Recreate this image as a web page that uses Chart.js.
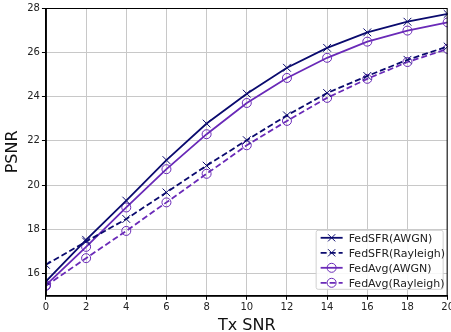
<!DOCTYPE html>
<html>
<head>
<meta charset="utf-8">
<script src="https://cdn.jsdelivr.net/npm/chart.js@4"></script>
<style>
  html, body { margin:0; padding:0; background:#fff; overflow:hidden; }
  #wrap { width:456px; height:332px; }
</style>
</head>
<body>
<div id="wrap"><canvas id="c" width="456" height="332"></canvas></div>
<script>
// Tx SNR values and PSNR curves
const snr = [0, 2, 4, 6, 8, 10, 12, 14, 16, 18, 20];
const fedSfrAwgn     = [15.65, 17.53, 19.30, 21.13, 22.78, 24.13, 25.30, 26.20, 26.90, 27.38, 27.73];
const fedSfrRayleigh = [16.40, 17.45, 18.47, 19.67, 20.88, 22.03, 23.15, 24.16, 24.93, 25.66, 26.26];
const fedAvgAwgn     = [15.48, 17.21, 18.99, 20.72, 22.30, 23.71, 24.84, 25.75, 26.48, 26.98, 27.35];
const fedAvgRayleigh = [15.45, 16.70, 17.93, 19.22, 20.51, 21.80, 22.90, 23.94, 24.80, 25.56, 26.15];
const yTicks = [16, 18, 20, 22, 24, 26, 28];

const NAVY = '#0a0a6e';
const PURPLE = '#6a2ab8';
const FONT = "'DejaVu Sans', sans-serif";

const pts = arr => arr.map((v, i) => ({x: snr[i], y: v}));

function series(label, data, color, dashed, marker){
  return {
    label,
    data: pts(data),
    borderColor: color,
    backgroundColor: 'rgba(0,0,0,0)',
    borderWidth: 1.8,
    borderDash: dashed ? [6, 3] : [],
    pointStyle: marker,
    pointRadius: marker === 'circle' ? 4.5 : 5.5,
    pointBorderWidth: 1,
    pointBorderColor: color,
    pointBackgroundColor: 'rgba(0,0,0,0)',
    tension: 0
  };
}

const datasets = [
  series('FedSFR(AWGN)', fedSfrAwgn, NAVY, false, 'crossRot'),
  series('FedSFR(Rayleigh)', fedSfrRayleigh, NAVY, true, 'crossRot'),
  series('FedAvg(AWGN)', fedAvgAwgn, PURPLE, false, 'circle'),
  series('FedAvg(Rayleigh)', fedAvgRayleigh, PURPLE, true, 'circle')
];

// box frame round the plot and a matplotlib-like legend
const frameAndLegend = {
  id: 'frameAndLegend',
  afterDatasetsDraw(chart){
    const {ctx, chartArea: a} = chart;
    ctx.save();
    ctx.strokeStyle = '#000';
    ctx.lineWidth = 1;
    ctx.strokeRect(a.left + 0.5, a.top + 0.5, a.right - a.left - 1, a.bottom - a.top);

    const w = 127, rowH = 15, h = 59;
    const x0 = a.right - w - 5, y0 = a.bottom - h - 7;
    ctx.fillStyle = 'rgba(255,255,255,0.85)';
    ctx.strokeStyle = '#d0d0d0';
    ctx.lineWidth = 1;
    ctx.beginPath();
    ctx.roundRect(x0 + 0.5, y0 + 0.5, w, h, 2);
    ctx.fill();
    ctx.stroke();

    ctx.font = '11px ' + FONT;
    ctx.textBaseline = 'middle';
    datasets.forEach((d, i) => {
      const cy = y0 + 8 + i * rowH;
      const lx = x0 + 5;
      ctx.strokeStyle = d.borderColor;
      ctx.lineWidth = d.borderWidth;
      ctx.setLineDash(d.borderDash);
      ctx.beginPath();
      ctx.moveTo(lx, cy);
      ctx.lineTo(lx + 22, cy);
      ctx.stroke();
      ctx.setLineDash([]);
      ctx.lineWidth = 1;
      const mx = lx + 11, r = 4.5;
      ctx.beginPath();
      if (d.pointStyle === 'circle') {
        ctx.arc(mx, cy, r, 0, Math.PI * 2);
      } else {
        const k = r * 0.8;
        ctx.moveTo(mx - k, cy - k); ctx.lineTo(mx + k, cy + k);
        ctx.moveTo(mx - k, cy + k); ctx.lineTo(mx + k, cy - k);
      }
      ctx.stroke();
      ctx.fillStyle = '#222';
      ctx.fillText(d.label, lx + 28, cy + 1);
    });
    ctx.restore();
  }
};

new Chart(document.getElementById('c'), {
  type: 'line',
  data: { datasets },
  plugins: [frameAndLegend],
  options: {
    responsive: false,
    animation: false,
    layout: { padding: { top: 6, right: 0, left: 3, bottom: -3 } },
    plugins: { legend: { display: false }, tooltip: { enabled: false } },
    scales: {
      x: {
        type: 'linear',
        min: 0, max: 20,
        ticks: { stepSize: 2, color: '#222', font: { family: FONT, size: 10 }, padding: 2, maxRotation: 0 },
        grid: { color: '#c8c8c8', tickColor: '#000', tickLength: 4, lineWidth: 1 },
        border: { color: '#000', width: 1 },
        title: { display: true, text: 'Tx SNR', color: '#111', font: { family: FONT, size: 16 }, padding: { top: 0, bottom: 0 } }
      },
      y: {
        type: 'linear',
        min: 15, max: 28,
        afterBuildTicks: s => { s.ticks = yTicks.map(v => ({value: v})); },
        ticks: { color: '#222', font: { family: FONT, size: 10 }, padding: 2 },
        grid: { color: '#c8c8c8', tickColor: '#000', tickLength: 4, lineWidth: 1 },
        border: { color: '#000', width: 1 },
        title: { display: true, text: 'PSNR', color: '#111', font: { family: FONT, size: 16 }, padding: { top: 0, bottom: 3 } }
      }
    }
  }
});
</script>
</body>
</html>
